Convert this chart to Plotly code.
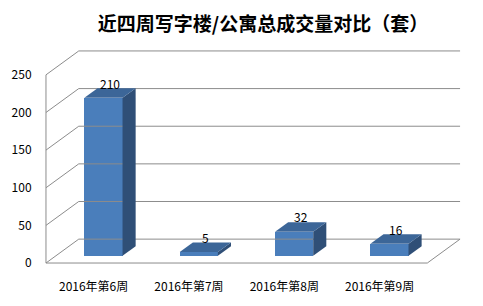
import plotly.graph_objects as go

# ---- data ----
categories = ["2016年第6周", "2016年第7周", "2016年第8周", "2016年第9周"]
values = [210, 5, 32, 16]
y_ticks = [0, 50, 100, 150, 200, 250]
title_text = "近四周写字楼/公寓总成交量对比（套）"

# ---- geometry (pixel calibration of the 3D look) ----
W, H = 483, 306
px_per_cat = 96.0
px_per_unit = 0.756
cat0_px = 91.0
zero_px = 264.0
ml, mr, mt, mb = 40, 13, 40, 36
x_range = [(ml - cat0_px) / px_per_cat, (W - mr - cat0_px) / px_per_cat]
y_range = [(zero_px - (H - mb)) / px_per_unit, (zero_px - mt) / px_per_unit]

dxf = 33.0 / px_per_cat          # full depth in x (category units)
dyf = 24.0 / px_per_unit         # full depth in y (value units)
f0, f1 = 0.3, 0.7                # bar depth span as fraction of full depth
bar_w = 0.40
x_left, x_right = -0.5, len(categories) - 0.5
ymax = y_ticks[-1]

grid_col = "#8c8c8c"
front_col = "#4A7EBB"
top_col = "#3C6698"
side_col = "#2F4F77"
font_cjk = "Noto Sans CJK SC, Noto Sans, sans-serif"

fig = go.Figure()

def line(xs, ys):
    fig.add_trace(go.Scatter(x=xs, y=ys, mode="lines",
                             line=dict(color=grid_col, width=1),
                             hoverinfo="skip", showlegend=False))

# walls: left wall diagonals + back wall gridlines
for v in y_ticks:
    line([x_left, x_left + dxf, x_right + dxf], [v, v + dyf, v + dyf])
# front vertical axis
line([x_left, x_left], [0, ymax])
# floor front edge and right diagonal
line([x_left, x_right, x_right + dxf], [0, 0, dyf])

# bars
base = f0 * dyf
ddx = (f1 - f0) * dxf
ddy = (f1 - f0) * dyf
for i, v in enumerate(values):
    cx = i + f0 * dxf
    xl, xr = cx - bar_w / 2, cx + bar_w / 2
    # side face
    fig.add_trace(go.Scatter(
        x=[xr, xr, xr + ddx, xr + ddx, xr],
        y=[base, base + v, base + v + ddy, base + ddy, base],
        fill="toself", fillcolor=side_col, mode="lines",
        line=dict(width=0, color=side_col), hoverinfo="skip", showlegend=False))
    # top face
    fig.add_trace(go.Scatter(
        x=[xl, xr, xr + ddx, xl + ddx, xl],
        y=[base + v, base + v, base + v + ddy, base + v + ddy, base + v],
        fill="toself", fillcolor=top_col, mode="lines",
        line=dict(width=0, color=top_col), hoverinfo="skip", showlegend=False))

# front faces
fig.add_trace(go.Bar(
    x=[i + f0 * dxf for i in range(len(values))], y=values, base=base,
    width=bar_w, marker=dict(color=front_col, line=dict(width=0)),
    hoverinfo="skip", showlegend=False))

# data labels
for i, v in enumerate(values):
    fig.add_annotation(x=i + f0 * dxf + ddx / 2, y=base + v + ddy / 2,
                       text=str(v), showarrow=False, yshift=10,
                       font=dict(size=12, color="#000000", family=font_cjk))

fig.update_layout(
    width=W, height=H,
    margin=dict(l=ml, r=mr, t=mt, b=mb),
    paper_bgcolor="white", plot_bgcolor="white",
    title=dict(text="<b>" + title_text + "</b>", x=263 / W, xanchor="center",
               y=1 - 24 / H, yanchor="middle",
               font=dict(size=19, color="#000000", family=font_cjk)),
    xaxis=dict(range=x_range, showgrid=False, zeroline=False, showline=False,
               tickmode="array", tickvals=list(range(len(categories))),
               ticktext=categories, ticks="outside", ticklen=7,
               tickcolor="rgba(0,0,0,0)",
               tickfont=dict(size=12, color="#000000", family=font_cjk)),
    yaxis=dict(range=y_range, showgrid=False, zeroline=False, showline=False,
               tickmode="array", tickvals=y_ticks, ticks="outside", ticklen=8,
               tickcolor="rgba(0,0,0,0)",
               tickfont=dict(size=12, color="#000000", family=font_cjk)),
    bargap=0,
)

fig.write_html("out.html")
